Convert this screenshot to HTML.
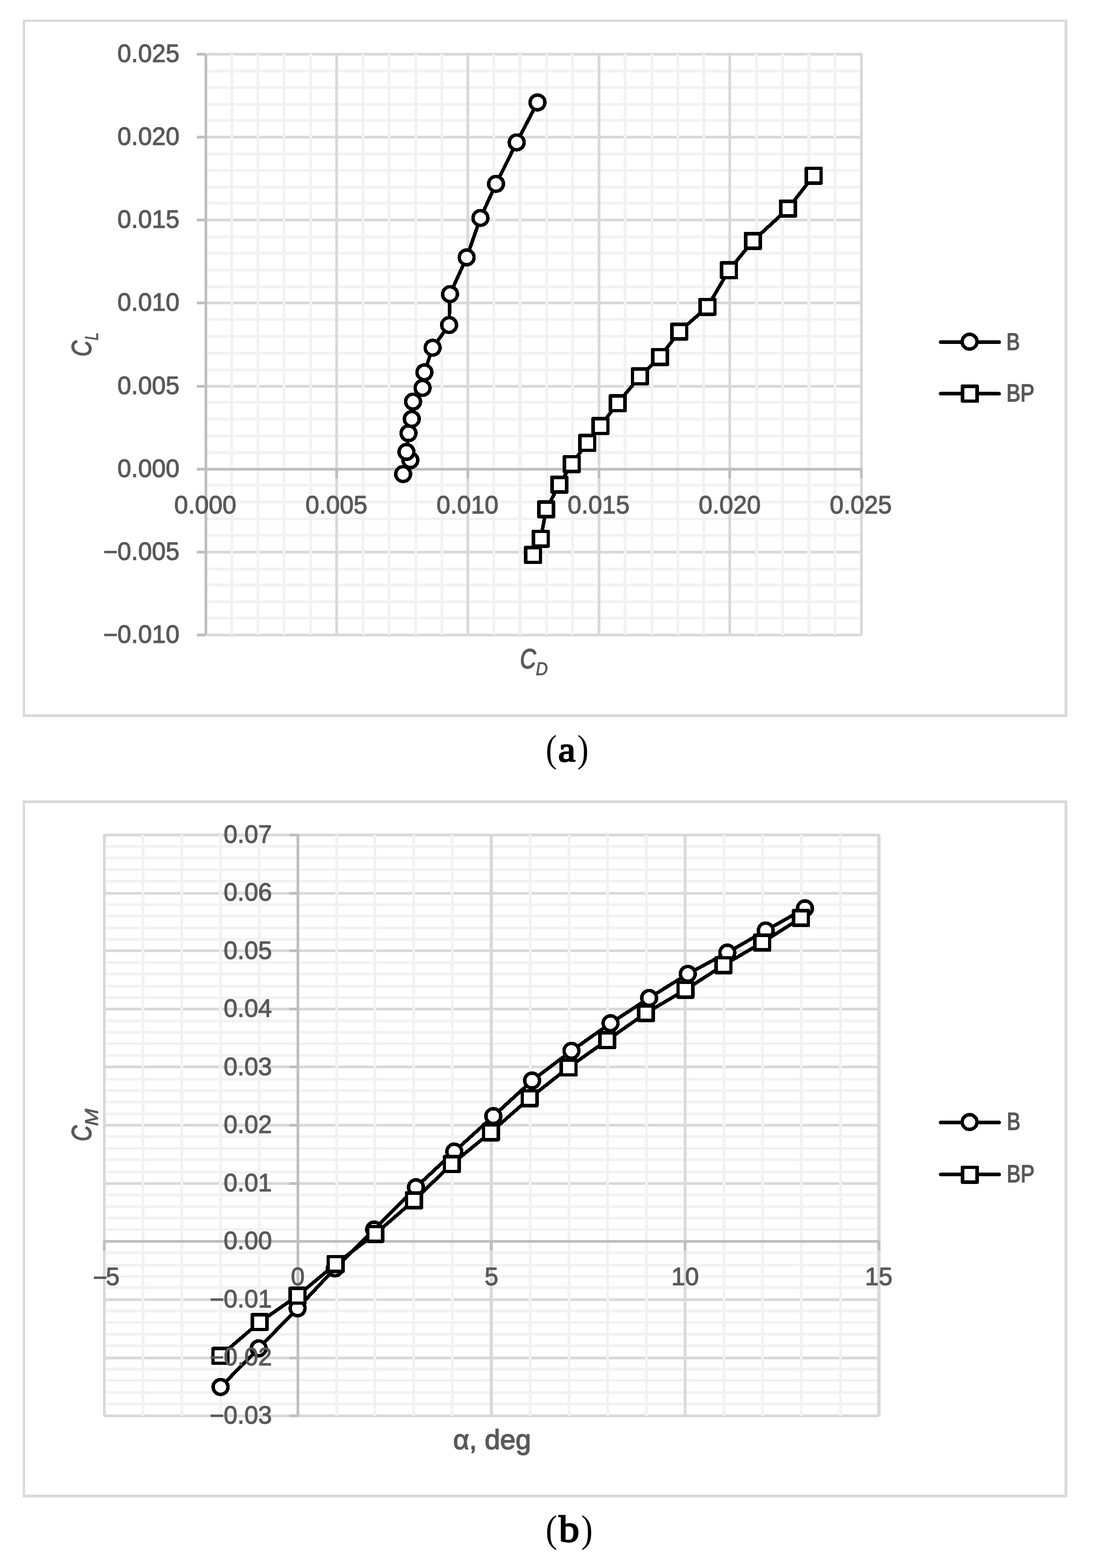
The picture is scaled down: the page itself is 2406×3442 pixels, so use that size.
<!DOCTYPE html>
<html lang="en"><head><meta charset="utf-8"><title>Figure: lift-drag polar and pitching moment</title>
<style>html,body{margin:0;padding:0;background:#fff}svg{display:block}text{white-space:pre}</style></head><body>
<svg width="2406" height="3442" viewBox="0 0 2406 3442" role="img" aria-label="Two line charts: (a) lift coefficient versus drag coefficient, (b) pitching moment coefficient versus angle of attack, for configurations B and BP">
<rect width="2406" height="3442" fill="#fff"/>
<g shape-rendering="crispEdges">
<rect x="50" y="43" width="2293" height="5" fill="#d9d9d9"/>
<rect x="50" y="1568" width="2293" height="6" fill="#d9d9d9"/>
<rect x="50" y="43" width="5" height="1531" fill="#d9d9d9"/>
<rect x="2337" y="43" width="6" height="1531" fill="#d9d9d9"/>
<rect x="455" y="153" width="1437" height="6" fill="#f2f2f2"/>
<rect x="455" y="189" width="1437" height="6" fill="#f2f2f2"/>
<rect x="455" y="226" width="1437" height="6" fill="#f2f2f2"/>
<rect x="455" y="261" width="1437" height="6" fill="#f2f2f2"/>
<rect x="455" y="335" width="1437" height="6" fill="#f2f2f2"/>
<rect x="455" y="371" width="1437" height="6" fill="#f2f2f2"/>
<rect x="455" y="408" width="1437" height="6" fill="#f2f2f2"/>
<rect x="455" y="443" width="1437" height="6" fill="#f2f2f2"/>
<rect x="455" y="517" width="1437" height="6" fill="#f2f2f2"/>
<rect x="455" y="553" width="1437" height="6" fill="#f2f2f2"/>
<rect x="455" y="590" width="1437" height="6" fill="#f2f2f2"/>
<rect x="455" y="627" width="1437" height="6" fill="#f2f2f2"/>
<rect x="455" y="698" width="1437" height="6" fill="#f2f2f2"/>
<rect x="455" y="735" width="1437" height="6" fill="#f2f2f2"/>
<rect x="455" y="772" width="1437" height="6" fill="#f2f2f2"/>
<rect x="455" y="809" width="1437" height="6" fill="#f2f2f2"/>
<rect x="455" y="880" width="1437" height="6" fill="#f2f2f2"/>
<rect x="455" y="917" width="1437" height="6" fill="#f2f2f2"/>
<rect x="455" y="954" width="1437" height="6" fill="#f2f2f2"/>
<rect x="455" y="990" width="1437" height="7" fill="#f2f2f2"/>
<rect x="455" y="1062" width="1437" height="6" fill="#f2f2f2"/>
<rect x="455" y="1099" width="1437" height="6" fill="#f2f2f2"/>
<rect x="455" y="1136" width="1437" height="6" fill="#f2f2f2"/>
<rect x="455" y="1172" width="1437" height="6" fill="#f2f2f2"/>
<rect x="455" y="1246" width="1437" height="6" fill="#f2f2f2"/>
<rect x="455" y="1281" width="1437" height="6" fill="#f2f2f2"/>
<rect x="455" y="1318" width="1437" height="6" fill="#f2f2f2"/>
<rect x="455" y="1354" width="1437" height="6" fill="#f2f2f2"/>
<rect x="455" y="116" width="1437" height="6" fill="#d9d9d9"/>
<rect x="455" y="298" width="1437" height="6" fill="#d9d9d9"/>
<rect x="455" y="480" width="1437" height="6" fill="#d9d9d9"/>
<rect x="455" y="662" width="1437" height="6" fill="#d9d9d9"/>
<rect x="455" y="845" width="1437" height="6" fill="#d9d9d9"/>
<rect x="455" y="1027" width="1437" height="6" fill="#d9d9d9"/>
<rect x="455" y="1209" width="1437" height="6" fill="#d9d9d9"/>
<rect x="455" y="1391" width="1437" height="6" fill="#d9d9d9"/>
<rect x="506" y="118" width="6" height="1276" fill="#f2f2f2"/>
<rect x="563" y="118" width="6" height="1276" fill="#f2f2f2"/>
<rect x="620" y="118" width="6" height="1276" fill="#f2f2f2"/>
<rect x="679" y="118" width="6" height="1276" fill="#f2f2f2"/>
<rect x="794" y="118" width="6" height="1276" fill="#f2f2f2"/>
<rect x="851" y="118" width="6" height="1276" fill="#f2f2f2"/>
<rect x="910" y="118" width="6" height="1276" fill="#f2f2f2"/>
<rect x="967" y="118" width="6" height="1276" fill="#f2f2f2"/>
<rect x="1081" y="118" width="6" height="1276" fill="#f2f2f2"/>
<rect x="1138" y="118" width="7" height="1276" fill="#f2f2f2"/>
<rect x="1197" y="118" width="6" height="1276" fill="#f2f2f2"/>
<rect x="1254" y="118" width="6" height="1276" fill="#f2f2f2"/>
<rect x="1369" y="118" width="6" height="1276" fill="#f2f2f2"/>
<rect x="1428" y="118" width="6" height="1276" fill="#f2f2f2"/>
<rect x="1485" y="118" width="6" height="1276" fill="#f2f2f2"/>
<rect x="1542" y="118" width="6" height="1276" fill="#f2f2f2"/>
<rect x="1658" y="118" width="6" height="1276" fill="#f2f2f2"/>
<rect x="1715" y="118" width="6" height="1276" fill="#f2f2f2"/>
<rect x="1772" y="118" width="7" height="1276" fill="#f2f2f2"/>
<rect x="1830" y="118" width="6" height="1276" fill="#f2f2f2"/>
<rect x="736" y="118" width="6" height="1276" fill="#d9d9d9"/>
<rect x="1024" y="118" width="6" height="1276" fill="#d9d9d9"/>
<rect x="1312" y="118" width="6" height="1276" fill="#d9d9d9"/>
<rect x="1599" y="118" width="6" height="1276" fill="#d9d9d9"/>
<rect x="1888" y="118" width="6" height="1276" fill="#d9d9d9"/>
<rect x="452" y="1027" width="1440" height="6" fill="#bfbfbf"/>
<rect x="449" y="1030" width="6" height="20" fill="#bfbfbf"/>
<rect x="736" y="1030" width="6" height="20" fill="#bfbfbf"/>
<rect x="1024" y="1030" width="6" height="20" fill="#bfbfbf"/>
<rect x="1312" y="1030" width="6" height="20" fill="#bfbfbf"/>
<rect x="1599" y="1030" width="6" height="20" fill="#bfbfbf"/>
<rect x="1888" y="1030" width="6" height="20" fill="#bfbfbf"/>
<rect x="449" y="118" width="6" height="1276" fill="#bfbfbf"/>
<rect x="432" y="116" width="20" height="6" fill="#bfbfbf"/>
<rect x="432" y="298" width="20" height="6" fill="#bfbfbf"/>
<rect x="432" y="480" width="20" height="6" fill="#bfbfbf"/>
<rect x="432" y="662" width="20" height="6" fill="#bfbfbf"/>
<rect x="432" y="845" width="20" height="6" fill="#bfbfbf"/>
<rect x="432" y="1027" width="20" height="6" fill="#bfbfbf"/>
<rect x="432" y="1209" width="20" height="6" fill="#bfbfbf"/>
<rect x="432" y="1391" width="20" height="6" fill="#bfbfbf"/>
</g>
<g shape-rendering="crispEdges">
<polyline points="900.9,1010.1 884.9,1040.6 892.3,992.0 896.8,951.0 904.0,919.7 906.8,881.6 927.7,851.5 931.7,817.3 949.7,763.3 985.9,713.5 987.9,645.7 1024.5,565.0 1054.7,478.5 1088.9,403.6 1134.3,312.6 1179.9,224.9" fill="none" stroke="#000" stroke-width="7.8" stroke-linejoin="round" stroke-linecap="round"/>
<circle cx="900.9" cy="1010.1" r="16.25" fill="#fff" stroke="#000" stroke-width="7.6"/>
<circle cx="884.9" cy="1040.6" r="16.25" fill="#fff" stroke="#000" stroke-width="7.6"/>
<circle cx="892.3" cy="992.0" r="16.25" fill="#fff" stroke="#000" stroke-width="7.6"/>
<circle cx="896.8" cy="951.0" r="16.25" fill="#fff" stroke="#000" stroke-width="7.6"/>
<circle cx="904.0" cy="919.7" r="16.25" fill="#fff" stroke="#000" stroke-width="7.6"/>
<circle cx="906.8" cy="881.6" r="16.25" fill="#fff" stroke="#000" stroke-width="7.6"/>
<circle cx="927.7" cy="851.5" r="16.25" fill="#fff" stroke="#000" stroke-width="7.6"/>
<circle cx="931.7" cy="817.3" r="16.25" fill="#fff" stroke="#000" stroke-width="7.6"/>
<circle cx="949.7" cy="763.3" r="16.25" fill="#fff" stroke="#000" stroke-width="7.6"/>
<circle cx="985.9" cy="713.5" r="16.25" fill="#fff" stroke="#000" stroke-width="7.6"/>
<circle cx="987.9" cy="645.7" r="16.25" fill="#fff" stroke="#000" stroke-width="7.6"/>
<circle cx="1024.5" cy="565.0" r="16.25" fill="#fff" stroke="#000" stroke-width="7.6"/>
<circle cx="1054.7" cy="478.5" r="16.25" fill="#fff" stroke="#000" stroke-width="7.6"/>
<circle cx="1088.9" cy="403.6" r="16.25" fill="#fff" stroke="#000" stroke-width="7.6"/>
<circle cx="1134.3" cy="312.6" r="16.25" fill="#fff" stroke="#000" stroke-width="7.6"/>
<circle cx="1179.9" cy="224.9" r="16.25" fill="#fff" stroke="#000" stroke-width="7.6"/>
<polyline points="1170.1,1218.2 1187.1,1182.6 1199.0,1118.0 1227.9,1063.9 1255.1,1018.8 1289.1,972.1 1318.1,935.1 1356.0,885.2 1404.7,826.2 1448.9,783.8 1491.1,727.9 1553.1,673.5 1600.2,593.2 1652.9,528.9 1729.9,457.9 1786.1,385.7" fill="none" stroke="#000" stroke-width="7.8" stroke-linejoin="round" stroke-linecap="round"/>
<rect x="1153.9" y="1202.0" width="32.4" height="32.4" fill="#fff" stroke="#000" stroke-width="7.6" stroke-linejoin="round"/>
<rect x="1170.9" y="1166.4" width="32.4" height="32.4" fill="#fff" stroke="#000" stroke-width="7.6" stroke-linejoin="round"/>
<rect x="1182.8" y="1101.8" width="32.4" height="32.4" fill="#fff" stroke="#000" stroke-width="7.6" stroke-linejoin="round"/>
<rect x="1211.7" y="1047.7" width="32.4" height="32.4" fill="#fff" stroke="#000" stroke-width="7.6" stroke-linejoin="round"/>
<rect x="1238.9" y="1002.6" width="32.4" height="32.4" fill="#fff" stroke="#000" stroke-width="7.6" stroke-linejoin="round"/>
<rect x="1272.9" y="955.9" width="32.4" height="32.4" fill="#fff" stroke="#000" stroke-width="7.6" stroke-linejoin="round"/>
<rect x="1301.9" y="918.9" width="32.4" height="32.4" fill="#fff" stroke="#000" stroke-width="7.6" stroke-linejoin="round"/>
<rect x="1339.8" y="869.0" width="32.4" height="32.4" fill="#fff" stroke="#000" stroke-width="7.6" stroke-linejoin="round"/>
<rect x="1388.5" y="810.0" width="32.4" height="32.4" fill="#fff" stroke="#000" stroke-width="7.6" stroke-linejoin="round"/>
<rect x="1432.7" y="767.6" width="32.4" height="32.4" fill="#fff" stroke="#000" stroke-width="7.6" stroke-linejoin="round"/>
<rect x="1474.9" y="711.7" width="32.4" height="32.4" fill="#fff" stroke="#000" stroke-width="7.6" stroke-linejoin="round"/>
<rect x="1536.9" y="657.3" width="32.4" height="32.4" fill="#fff" stroke="#000" stroke-width="7.6" stroke-linejoin="round"/>
<rect x="1584.0" y="577.0" width="32.4" height="32.4" fill="#fff" stroke="#000" stroke-width="7.6" stroke-linejoin="round"/>
<rect x="1636.7" y="512.7" width="32.4" height="32.4" fill="#fff" stroke="#000" stroke-width="7.6" stroke-linejoin="round"/>
<rect x="1713.7" y="441.7" width="32.4" height="32.4" fill="#fff" stroke="#000" stroke-width="7.6" stroke-linejoin="round"/>
<rect x="1769.9" y="369.5" width="32.4" height="32.4" fill="#fff" stroke="#000" stroke-width="7.6" stroke-linejoin="round"/>
</g>
<g shape-rendering="crispEdges">
<line x1="2065" y1="751.0" x2="2193.5" y2="751.0" stroke="#000" stroke-width="7.8" stroke-linecap="round"/>
<circle cx="2128.5" cy="750.1" r="16.25" fill="#fff" stroke="#000" stroke-width="7.6"/>
<line x1="2065" y1="864.3" x2="2193.5" y2="864.3" stroke="#000" stroke-width="7.8" stroke-linecap="round"/>
<rect x="2112.9" y="847.9" width="32.4" height="32.4" fill="#fff" stroke="#000" stroke-width="7.6" stroke-linejoin="round"/>
</g>
<g><text transform="translate(2209.35 767.50) scale(0.8463 1)" font-family="'Liberation Sans', Arial, sans-serif"  font-size="52.62" fill="#595959" stroke="#595959" stroke-width="1.8" vector-effect="non-scaling-stroke" stroke-linejoin="round">B</text></g>
<g><text transform="translate(2209.21 880.90) scale(0.8684 1)" font-family="'Liberation Sans', Arial, sans-serif"  font-size="53.20" fill="#595959" stroke="#595959" stroke-width="1.8" vector-effect="non-scaling-stroke" stroke-linejoin="round">BP</text></g>
<g><text transform="translate(394.00 135.90) scale(0.986 1)" font-family="'Liberation Sans', Arial, sans-serif" font-size="55.2" text-anchor="end" fill="#595959" stroke="#595959" stroke-width="1.4">0.025</text></g>
<g><text transform="translate(394.00 318.00) scale(0.986 1)" font-family="'Liberation Sans', Arial, sans-serif" font-size="55.2" text-anchor="end" fill="#595959" stroke="#595959" stroke-width="1.4">0.020</text></g>
<g><text transform="translate(394.00 500.20) scale(0.986 1)" font-family="'Liberation Sans', Arial, sans-serif" font-size="55.2" text-anchor="end" fill="#595959" stroke="#595959" stroke-width="1.4">0.015</text></g>
<g><text transform="translate(394.00 682.30) scale(0.986 1)" font-family="'Liberation Sans', Arial, sans-serif" font-size="55.2" text-anchor="end" fill="#595959" stroke="#595959" stroke-width="1.4">0.010</text></g>
<g><text transform="translate(394.00 864.50) scale(0.986 1)" font-family="'Liberation Sans', Arial, sans-serif" font-size="55.2" text-anchor="end" fill="#595959" stroke="#595959" stroke-width="1.4">0.005</text></g>
<g><text transform="translate(394.00 1046.60) scale(0.986 1)" font-family="'Liberation Sans', Arial, sans-serif" font-size="55.2" text-anchor="end" fill="#595959" stroke="#595959" stroke-width="1.4">0.000</text></g>
<g><text transform="translate(258.40 1229.80) scale(0.986 1)" font-family="'Liberation Sans', Arial, sans-serif" font-size="55.2" text-anchor="end" fill="#595959" stroke="#595959" stroke-width="1.4">−</text><text transform="translate(394.00 1228.80) scale(0.986 1)" font-family="'Liberation Sans', Arial, sans-serif" font-size="55.2" text-anchor="end" fill="#595959" stroke="#595959" stroke-width="1.4">0.005</text></g>
<g><text transform="translate(258.40 1411.90) scale(0.986 1)" font-family="'Liberation Sans', Arial, sans-serif" font-size="55.2" text-anchor="end" fill="#595959" stroke="#595959" stroke-width="1.4">−</text><text transform="translate(394.00 1410.90) scale(0.986 1)" font-family="'Liberation Sans', Arial, sans-serif" font-size="55.2" text-anchor="end" fill="#595959" stroke="#595959" stroke-width="1.4">0.010</text></g>
<g><text transform="translate(450.70 1126.90) scale(0.986 1)" font-family="'Liberation Sans', Arial, sans-serif" font-size="55.2" text-anchor="middle" fill="#595959" stroke="#595959" stroke-width="1.4">0.000</text></g>
<g><text transform="translate(738.50 1126.90) scale(0.986 1)" font-family="'Liberation Sans', Arial, sans-serif" font-size="55.2" text-anchor="middle" fill="#595959" stroke="#595959" stroke-width="1.4">0.005</text></g>
<g><text transform="translate(1026.30 1126.90) scale(0.986 1)" font-family="'Liberation Sans', Arial, sans-serif" font-size="55.2" text-anchor="middle" fill="#595959" stroke="#595959" stroke-width="1.4">0.010</text></g>
<g><text transform="translate(1314.10 1126.90) scale(0.986 1)" font-family="'Liberation Sans', Arial, sans-serif" font-size="55.2" text-anchor="middle" fill="#595959" stroke="#595959" stroke-width="1.4">0.015</text></g>
<g><text transform="translate(1601.90 1126.90) scale(0.986 1)" font-family="'Liberation Sans', Arial, sans-serif" font-size="55.2" text-anchor="middle" fill="#595959" stroke="#595959" stroke-width="1.4">0.020</text></g>
<g><text transform="translate(1889.70 1126.90) scale(0.986 1)" font-family="'Liberation Sans', Arial, sans-serif" font-size="55.2" text-anchor="middle" fill="#595959" stroke="#595959" stroke-width="1.4">0.025</text></g>
<g><text transform="translate(1141.51 1467.41) scale(0.8070 1)" font-family="'Liberation Sans', Arial, sans-serif" font-style="italic" font-size="60.45" fill="#595959" stroke="#595959" stroke-width="1.8" vector-effect="non-scaling-stroke" stroke-linejoin="round">C</text><text transform="translate(1176.13 1482.05) scale(0.8851 1)" font-family="'Liberation Sans', Arial, sans-serif" font-style="italic" font-size="41.13" fill="#595959" stroke="#595959" stroke-width="1.1" vector-effect="non-scaling-stroke" stroke-linejoin="round">D</text></g>
<g><text transform="translate(200.41 782.69) rotate(-90) scale(0.8070 1)" font-family="'Liberation Sans', Arial, sans-serif" font-style="italic" font-size="60.45" fill="#595959" stroke="#595959" stroke-width="1.8" vector-effect="non-scaling-stroke" stroke-linejoin="round">C</text><text transform="translate(215.25 746.90) rotate(-90) scale(0.7471 1)" font-family="'Liberation Sans', Arial, sans-serif" font-style="italic" font-size="41.43" fill="#595959" stroke="#595959" stroke-width="1.1" vector-effect="non-scaling-stroke" stroke-linejoin="round">L</text></g>
<g><text transform="translate(1198.07 1672.30) scale(0.8654 1)" font-family="'Liberation Serif', 'Times New Roman', serif"  font-size="85.03" fill="#000">(</text><text transform="translate(1225.61 1671.36) scale(1.1193 1)" font-family="'Liberation Serif', 'Times New Roman', serif"  font-size="75.99" fill="#000" stroke="#000" stroke-width="3.0" vector-effect="non-scaling-stroke" stroke-linejoin="round">a</text><text transform="translate(1267.19 1672.30) scale(0.8792 1)" font-family="'Liberation Serif', 'Times New Roman', serif"  font-size="85.03" fill="#000">)</text></g>
<g shape-rendering="crispEdges">
<rect x="50" y="1757" width="2293" height="6" fill="#d9d9d9"/>
<rect x="50" y="3281" width="2293" height="6" fill="#d9d9d9"/>
<rect x="50" y="1757" width="5" height="1530" fill="#d9d9d9"/>
<rect x="2337" y="1757" width="6" height="1530" fill="#d9d9d9"/>
<rect x="228" y="1855" width="1702" height="6" fill="#f2f2f2"/>
<rect x="228" y="1880" width="1702" height="6" fill="#f2f2f2"/>
<rect x="228" y="1906" width="1702" height="6" fill="#f2f2f2"/>
<rect x="228" y="1931" width="1702" height="6" fill="#f2f2f2"/>
<rect x="228" y="1983" width="1702" height="6" fill="#f2f2f2"/>
<rect x="228" y="2008" width="1702" height="6" fill="#f2f2f2"/>
<rect x="228" y="2034" width="1702" height="6" fill="#f2f2f2"/>
<rect x="228" y="2059" width="1702" height="6" fill="#f2f2f2"/>
<rect x="228" y="2110" width="1702" height="6" fill="#f2f2f2"/>
<rect x="228" y="2135" width="1702" height="6" fill="#f2f2f2"/>
<rect x="228" y="2162" width="1702" height="6" fill="#f2f2f2"/>
<rect x="228" y="2187" width="1702" height="6" fill="#f2f2f2"/>
<rect x="228" y="2238" width="1702" height="6" fill="#f2f2f2"/>
<rect x="228" y="2263" width="1702" height="6" fill="#f2f2f2"/>
<rect x="228" y="2288" width="1702" height="6" fill="#f2f2f2"/>
<rect x="228" y="2314" width="1702" height="6" fill="#f2f2f2"/>
<rect x="228" y="2366" width="1702" height="6" fill="#f2f2f2"/>
<rect x="228" y="2391" width="1702" height="6" fill="#f2f2f2"/>
<rect x="228" y="2416" width="1702" height="6" fill="#f2f2f2"/>
<rect x="228" y="2442" width="1702" height="6" fill="#f2f2f2"/>
<rect x="228" y="2492" width="1702" height="6" fill="#f2f2f2"/>
<rect x="228" y="2518" width="1702" height="6" fill="#f2f2f2"/>
<rect x="228" y="2543" width="1702" height="6" fill="#f2f2f2"/>
<rect x="228" y="2570" width="1702" height="6" fill="#f2f2f2"/>
<rect x="228" y="2620" width="1702" height="6" fill="#f2f2f2"/>
<rect x="228" y="2646" width="1702" height="6" fill="#f2f2f2"/>
<rect x="228" y="2671" width="1702" height="6" fill="#f2f2f2"/>
<rect x="228" y="2696" width="1702" height="6" fill="#f2f2f2"/>
<rect x="228" y="2747" width="1702" height="6" fill="#f2f2f2"/>
<rect x="228" y="2774" width="1702" height="6" fill="#f2f2f2"/>
<rect x="228" y="2799" width="1702" height="6" fill="#f2f2f2"/>
<rect x="228" y="2823" width="1702" height="7" fill="#f2f2f2"/>
<rect x="228" y="2875" width="1702" height="6" fill="#f2f2f2"/>
<rect x="228" y="2900" width="1702" height="6" fill="#f2f2f2"/>
<rect x="228" y="2926" width="1702" height="6" fill="#f2f2f2"/>
<rect x="228" y="2951" width="1702" height="6" fill="#f2f2f2"/>
<rect x="228" y="3002" width="1702" height="7" fill="#f2f2f2"/>
<rect x="228" y="3027" width="1702" height="6" fill="#f2f2f2"/>
<rect x="228" y="3054" width="1702" height="6" fill="#f2f2f2"/>
<rect x="228" y="3079" width="1702" height="6" fill="#f2f2f2"/>
<rect x="228" y="1830" width="1702" height="6" fill="#d9d9d9"/>
<rect x="228" y="1958" width="1702" height="6" fill="#d9d9d9"/>
<rect x="228" y="2084" width="1702" height="6" fill="#d9d9d9"/>
<rect x="228" y="2212" width="1702" height="6" fill="#d9d9d9"/>
<rect x="228" y="2339" width="1702" height="6" fill="#d9d9d9"/>
<rect x="228" y="2467" width="1702" height="6" fill="#d9d9d9"/>
<rect x="228" y="2595" width="1702" height="6" fill="#d9d9d9"/>
<rect x="228" y="2722" width="1702" height="6" fill="#d9d9d9"/>
<rect x="228" y="2850" width="1702" height="6" fill="#d9d9d9"/>
<rect x="228" y="2978" width="1702" height="6" fill="#d9d9d9"/>
<rect x="228" y="3105" width="1702" height="6" fill="#d9d9d9"/>
<rect x="311" y="1832" width="6" height="1276" fill="#f2f2f2"/>
<rect x="396" y="1832" width="6" height="1276" fill="#f2f2f2"/>
<rect x="481" y="1832" width="6" height="1276" fill="#f2f2f2"/>
<rect x="566" y="1832" width="6" height="1276" fill="#f2f2f2"/>
<rect x="736" y="1832" width="6" height="1276" fill="#f2f2f2"/>
<rect x="820" y="1832" width="6" height="1276" fill="#f2f2f2"/>
<rect x="905" y="1832" width="6" height="1276" fill="#f2f2f2"/>
<rect x="990" y="1832" width="6" height="1276" fill="#f2f2f2"/>
<rect x="1161" y="1832" width="6" height="1276" fill="#f2f2f2"/>
<rect x="1246" y="1832" width="6" height="1276" fill="#f2f2f2"/>
<rect x="1331" y="1832" width="6" height="1276" fill="#f2f2f2"/>
<rect x="1416" y="1832" width="6" height="1276" fill="#f2f2f2"/>
<rect x="1586" y="1832" width="6" height="1276" fill="#f2f2f2"/>
<rect x="1671" y="1832" width="6" height="1276" fill="#f2f2f2"/>
<rect x="1756" y="1832" width="6" height="1276" fill="#f2f2f2"/>
<rect x="1842" y="1832" width="6" height="1276" fill="#f2f2f2"/>
<rect x="226" y="1832" width="6" height="1276" fill="#d9d9d9"/>
<rect x="651" y="1832" width="6" height="1276" fill="#d9d9d9"/>
<rect x="1075" y="1832" width="7" height="1276" fill="#d9d9d9"/>
<rect x="1501" y="1832" width="6" height="1276" fill="#d9d9d9"/>
<rect x="1926" y="1832" width="7" height="1276" fill="#d9d9d9"/>
<rect x="228" y="2722" width="1702" height="6" fill="#bfbfbf"/>
<rect x="226" y="2725" width="6" height="20" fill="#bfbfbf"/>
<rect x="651" y="2725" width="6" height="20" fill="#bfbfbf"/>
<rect x="1075" y="2725" width="7" height="20" fill="#bfbfbf"/>
<rect x="1501" y="2725" width="6" height="20" fill="#bfbfbf"/>
<rect x="1926" y="2725" width="7" height="20" fill="#bfbfbf"/>
<rect x="651" y="1832" width="6" height="1276" fill="#bfbfbf"/>
<rect x="635" y="1830" width="19" height="6" fill="#bfbfbf"/>
<rect x="635" y="1958" width="19" height="6" fill="#bfbfbf"/>
<rect x="635" y="2084" width="19" height="6" fill="#bfbfbf"/>
<rect x="635" y="2212" width="19" height="6" fill="#bfbfbf"/>
<rect x="635" y="2339" width="19" height="6" fill="#bfbfbf"/>
<rect x="635" y="2467" width="19" height="6" fill="#bfbfbf"/>
<rect x="635" y="2595" width="19" height="6" fill="#bfbfbf"/>
<rect x="635" y="2722" width="19" height="6" fill="#bfbfbf"/>
<rect x="635" y="2850" width="19" height="6" fill="#bfbfbf"/>
<rect x="635" y="2978" width="19" height="6" fill="#bfbfbf"/>
<rect x="635" y="3105" width="19" height="6" fill="#bfbfbf"/>
</g>
<g shape-rendering="crispEdges">
<polyline points="484.2,3044.7 567.8,2959.8 653.3,2871.9 735.1,2784.5 821.3,2699.0 913.1,2606.2 997.3,2527.9 1083.0,2450.1 1168.1,2372.0 1254.5,2306.7 1340.3,2246.2 1425.0,2190.7 1509.9,2137.8 1596.7,2091.1 1680.9,2042.6 1767.1,1994.0" fill="none" stroke="#000" stroke-width="7.8" stroke-linejoin="round" stroke-linecap="round"/>
<circle cx="484.2" cy="3044.7" r="16.25" fill="#fff" stroke="#000" stroke-width="7.6"/>
<circle cx="567.8" cy="2959.8" r="16.25" fill="#fff" stroke="#000" stroke-width="7.6"/>
<circle cx="653.3" cy="2871.9" r="16.25" fill="#fff" stroke="#000" stroke-width="7.6"/>
<circle cx="735.1" cy="2784.5" r="16.25" fill="#fff" stroke="#000" stroke-width="7.6"/>
<circle cx="821.3" cy="2699.0" r="16.25" fill="#fff" stroke="#000" stroke-width="7.6"/>
<circle cx="913.1" cy="2606.2" r="16.25" fill="#fff" stroke="#000" stroke-width="7.6"/>
<circle cx="997.3" cy="2527.9" r="16.25" fill="#fff" stroke="#000" stroke-width="7.6"/>
<circle cx="1083.0" cy="2450.1" r="16.25" fill="#fff" stroke="#000" stroke-width="7.6"/>
<circle cx="1168.1" cy="2372.0" r="16.25" fill="#fff" stroke="#000" stroke-width="7.6"/>
<circle cx="1254.5" cy="2306.7" r="16.25" fill="#fff" stroke="#000" stroke-width="7.6"/>
<circle cx="1340.3" cy="2246.2" r="16.25" fill="#fff" stroke="#000" stroke-width="7.6"/>
<circle cx="1425.0" cy="2190.7" r="16.25" fill="#fff" stroke="#000" stroke-width="7.6"/>
<circle cx="1509.9" cy="2137.8" r="16.25" fill="#fff" stroke="#000" stroke-width="7.6"/>
<circle cx="1596.7" cy="2091.1" r="16.25" fill="#fff" stroke="#000" stroke-width="7.6"/>
<circle cx="1680.9" cy="2042.6" r="16.25" fill="#fff" stroke="#000" stroke-width="7.6"/>
<circle cx="1767.1" cy="1994.0" r="16.25" fill="#fff" stroke="#000" stroke-width="7.6"/>
<polyline points="483.7,2976.4 570.0,2902.2 653.2,2844.4 736.6,2774.7 823.7,2708.7 908.8,2635.0 991.8,2555.3 1077.5,2485.5 1162.5,2410.7 1248.1,2343.2 1333.0,2283.2 1417.9,2223.9 1504.5,2172.8 1588.3,2118.7 1673.1,2069.1 1758.4,2015.0" fill="none" stroke="#000" stroke-width="7.8" stroke-linejoin="round" stroke-linecap="round"/>
<rect x="467.5" y="2960.2" width="32.4" height="32.4" fill="#fff" stroke="#000" stroke-width="7.6" stroke-linejoin="round"/>
<rect x="553.8" y="2886.0" width="32.4" height="32.4" fill="#fff" stroke="#000" stroke-width="7.6" stroke-linejoin="round"/>
<rect x="637.0" y="2828.2" width="32.4" height="32.4" fill="#fff" stroke="#000" stroke-width="7.6" stroke-linejoin="round"/>
<rect x="720.4" y="2758.5" width="32.4" height="32.4" fill="#fff" stroke="#000" stroke-width="7.6" stroke-linejoin="round"/>
<rect x="807.5" y="2692.5" width="32.4" height="32.4" fill="#fff" stroke="#000" stroke-width="7.6" stroke-linejoin="round"/>
<rect x="892.6" y="2618.8" width="32.4" height="32.4" fill="#fff" stroke="#000" stroke-width="7.6" stroke-linejoin="round"/>
<rect x="975.6" y="2539.1" width="32.4" height="32.4" fill="#fff" stroke="#000" stroke-width="7.6" stroke-linejoin="round"/>
<rect x="1061.3" y="2469.3" width="32.4" height="32.4" fill="#fff" stroke="#000" stroke-width="7.6" stroke-linejoin="round"/>
<rect x="1146.3" y="2394.5" width="32.4" height="32.4" fill="#fff" stroke="#000" stroke-width="7.6" stroke-linejoin="round"/>
<rect x="1231.9" y="2327.0" width="32.4" height="32.4" fill="#fff" stroke="#000" stroke-width="7.6" stroke-linejoin="round"/>
<rect x="1316.8" y="2267.0" width="32.4" height="32.4" fill="#fff" stroke="#000" stroke-width="7.6" stroke-linejoin="round"/>
<rect x="1401.7" y="2207.7" width="32.4" height="32.4" fill="#fff" stroke="#000" stroke-width="7.6" stroke-linejoin="round"/>
<rect x="1488.3" y="2156.6" width="32.4" height="32.4" fill="#fff" stroke="#000" stroke-width="7.6" stroke-linejoin="round"/>
<rect x="1572.1" y="2102.5" width="32.4" height="32.4" fill="#fff" stroke="#000" stroke-width="7.6" stroke-linejoin="round"/>
<rect x="1656.9" y="2052.9" width="32.4" height="32.4" fill="#fff" stroke="#000" stroke-width="7.6" stroke-linejoin="round"/>
<rect x="1742.2" y="1998.8" width="32.4" height="32.4" fill="#fff" stroke="#000" stroke-width="7.6" stroke-linejoin="round"/>
</g>
<g shape-rendering="crispEdges">
<line x1="2065" y1="2464.0" x2="2193.5" y2="2464.0" stroke="#000" stroke-width="7.8" stroke-linecap="round"/>
<circle cx="2128.5" cy="2463.1" r="16.25" fill="#fff" stroke="#000" stroke-width="7.6"/>
<line x1="2065" y1="2578.2" x2="2193.5" y2="2578.2" stroke="#000" stroke-width="7.8" stroke-linecap="round"/>
<rect x="2112.9" y="2562.6" width="32.4" height="32.4" fill="#fff" stroke="#000" stroke-width="7.6" stroke-linejoin="round"/>
</g>
<g><text transform="translate(2210.13 2480.00) scale(0.8406 1)" font-family="'Liberation Sans', Arial, sans-serif"  font-size="53.20" fill="#595959" stroke="#595959" stroke-width="1.8" vector-effect="non-scaling-stroke" stroke-linejoin="round">B</text></g>
<g><text transform="translate(2210.04 2594.70) scale(0.8677 1)" font-family="'Liberation Sans', Arial, sans-serif"  font-size="52.76" fill="#595959" stroke="#595959" stroke-width="1.8" vector-effect="non-scaling-stroke" stroke-linejoin="round">BP</text></g>
<g><text transform="translate(597.00 1849.90) scale(0.986 1)" font-family="'Liberation Sans', Arial, sans-serif" font-size="55.2" text-anchor="end" fill="#595959" stroke="#595959" stroke-width="1.4">0.07</text></g>
<g><text transform="translate(597.00 1977.40) scale(0.986 1)" font-family="'Liberation Sans', Arial, sans-serif" font-size="55.2" text-anchor="end" fill="#595959" stroke="#595959" stroke-width="1.4">0.06</text></g>
<g><text transform="translate(597.00 2104.90) scale(0.986 1)" font-family="'Liberation Sans', Arial, sans-serif" font-size="55.2" text-anchor="end" fill="#595959" stroke="#595959" stroke-width="1.4">0.05</text></g>
<g><text transform="translate(597.00 2232.40) scale(0.986 1)" font-family="'Liberation Sans', Arial, sans-serif" font-size="55.2" text-anchor="end" fill="#595959" stroke="#595959" stroke-width="1.4">0.04</text></g>
<g><text transform="translate(597.00 2359.90) scale(0.986 1)" font-family="'Liberation Sans', Arial, sans-serif" font-size="55.2" text-anchor="end" fill="#595959" stroke="#595959" stroke-width="1.4">0.03</text></g>
<g><text transform="translate(597.00 2487.40) scale(0.986 1)" font-family="'Liberation Sans', Arial, sans-serif" font-size="55.2" text-anchor="end" fill="#595959" stroke="#595959" stroke-width="1.4">0.02</text></g>
<g><text transform="translate(597.00 2614.90) scale(0.986 1)" font-family="'Liberation Sans', Arial, sans-serif" font-size="55.2" text-anchor="end" fill="#595959" stroke="#595959" stroke-width="1.4">0.01</text></g>
<g><text transform="translate(597.00 2742.40) scale(0.986 1)" font-family="'Liberation Sans', Arial, sans-serif" font-size="55.2" text-anchor="end" fill="#595959" stroke="#595959" stroke-width="1.4">0.00</text></g>
<g><text transform="translate(491.67 2870.90) scale(0.986 1)" font-family="'Liberation Sans', Arial, sans-serif" font-size="55.2" text-anchor="end" fill="#595959" stroke="#595959" stroke-width="1.4">−</text><text transform="translate(597.00 2869.90) scale(0.986 1)" font-family="'Liberation Sans', Arial, sans-serif" font-size="55.2" text-anchor="end" fill="#595959" stroke="#595959" stroke-width="1.4">0.01</text></g>
<g><text transform="translate(491.67 2998.40) scale(0.986 1)" font-family="'Liberation Sans', Arial, sans-serif" font-size="55.2" text-anchor="end" fill="#595959" stroke="#595959" stroke-width="1.4">−</text><text transform="translate(597.00 2997.40) scale(0.986 1)" font-family="'Liberation Sans', Arial, sans-serif" font-size="55.2" text-anchor="end" fill="#595959" stroke="#595959" stroke-width="1.4">0.02</text></g>
<g><text transform="translate(491.67 3125.90) scale(0.986 1)" font-family="'Liberation Sans', Arial, sans-serif" font-size="55.2" text-anchor="end" fill="#595959" stroke="#595959" stroke-width="1.4">−</text><text transform="translate(597.00 3124.90) scale(0.986 1)" font-family="'Liberation Sans', Arial, sans-serif" font-size="55.2" text-anchor="end" fill="#595959" stroke="#595959" stroke-width="1.4">0.03</text></g>
<g><text transform="translate(235.47 2822.60) scale(0.986 1)" font-family="'Liberation Sans', Arial, sans-serif" font-size="55.2" text-anchor="end" fill="#595959" stroke="#595959" stroke-width="1.4">−</text><text transform="translate(247.50 2820.80) scale(0.986 1)" font-family="'Liberation Sans', Arial, sans-serif" font-size="55.2" text-anchor="middle" fill="#595959" stroke="#595959" stroke-width="1.4">5</text></g>
<g><text transform="translate(653.60 2820.80) scale(0.986 1)" font-family="'Liberation Sans', Arial, sans-serif" font-size="55.2" text-anchor="middle" fill="#595959" stroke="#595959" stroke-width="1.4">0</text></g>
<g><text transform="translate(1078.80 2820.80) scale(0.986 1)" font-family="'Liberation Sans', Arial, sans-serif" font-size="55.2" text-anchor="middle" fill="#595959" stroke="#595959" stroke-width="1.4">5</text></g>
<g><text transform="translate(1503.90 2820.80) scale(0.986 1)" font-family="'Liberation Sans', Arial, sans-serif" font-size="55.2" text-anchor="middle" fill="#595959" stroke="#595959" stroke-width="1.4">10</text></g>
<g><text transform="translate(1929.00 2820.80) scale(0.986 1)" font-family="'Liberation Sans', Arial, sans-serif" font-size="55.2" text-anchor="middle" fill="#595959" stroke="#595959" stroke-width="1.4">15</text></g>
<g><text transform="translate(200.41 2505.59) rotate(-90) scale(0.8070 1)" font-family="'Liberation Sans', Arial, sans-serif" font-style="italic" font-size="60.45" fill="#595959" stroke="#595959" stroke-width="1.8" vector-effect="non-scaling-stroke" stroke-linejoin="round">C</text><text transform="translate(215.25 2471.75) rotate(-90) scale(1.0983 1)" font-family="'Liberation Sans', Arial, sans-serif" font-style="italic" font-size="41.43" fill="#595959" stroke="#595959" stroke-width="1.1" vector-effect="non-scaling-stroke" stroke-linejoin="round">M</text></g>
<g><text transform="translate(994.63 3180.89) scale(1.0133 1)" font-family="'Liberation Sans', Arial, sans-serif"  font-size="60.29" fill="#595959" stroke="#595959" stroke-width="1.8" vector-effect="non-scaling-stroke" stroke-linejoin="round">α, deg</text></g>
<g><text transform="translate(1197.63 3385.30) scale(0.9021 1)" font-family="'Liberation Serif', 'Times New Roman', serif"  font-size="85.03" fill="#000">(</text><text transform="translate(1226.70 3384.30) scale(1.1032 1)" font-family="'Liberation Serif', 'Times New Roman', serif"  font-size="81.44" fill="#000" stroke="#000" stroke-width="3.0" vector-effect="non-scaling-stroke" stroke-linejoin="round">b</text><text transform="translate(1275.74 3385.30) scale(0.8975 1)" font-family="'Liberation Serif', 'Times New Roman', serif"  font-size="85.03" fill="#000">)</text></g>
</svg>
</body></html>
